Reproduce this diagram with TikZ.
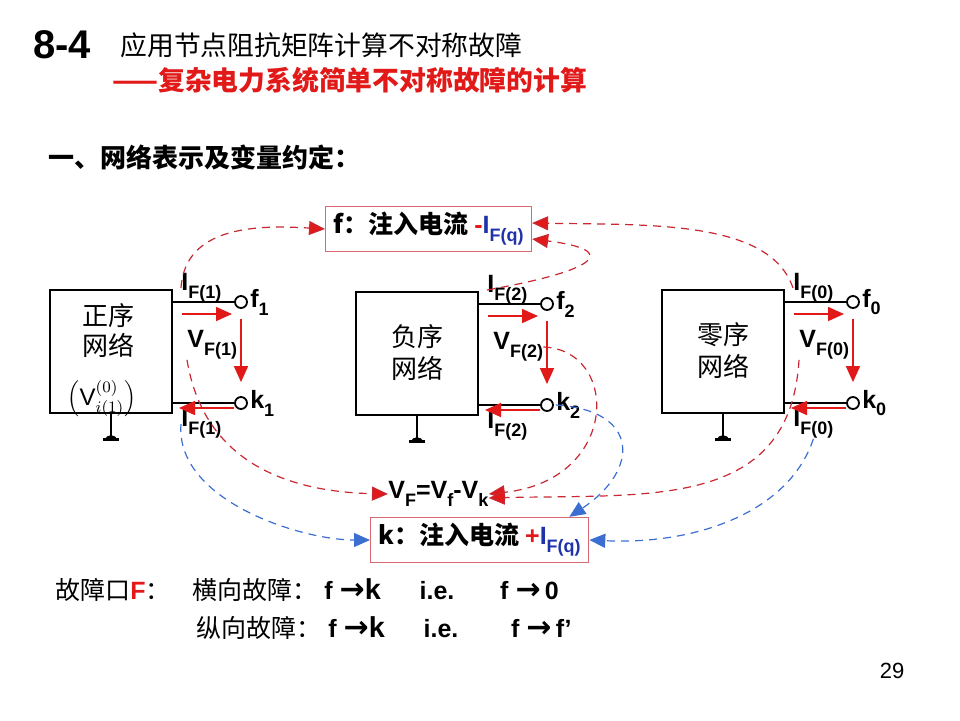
\documentclass[tikz,border=0pt]{standalone}
\usepackage{fontspec}
\setmainfont{Liberation Sans}
\newfontfamily\cjk{Noto Sans CJK SC}
\newfontfamily\sym{DejaVu Sans}
\usetikzlibrary{arrows.meta}
\definecolor{hired}{RGB}{225,25,25}
\definecolor{dred}{RGB}{200,40,50}
\definecolor{dblue}{RGB}{60,110,210}
\definecolor{lblue}{RGB}{30,50,170}
\newcommand{\subl}[2]{\textbf{#1}\raisebox{-0.6ex}{\fontsize{9}{9}\selectfont\textbf{#2}}}
\newcommand{\rarr}{{\sym\bfseries\fontsize{15}{15}\selectfont →}}

\begin{document}
\begin{tikzpicture}
        [x=0.5pt, y=-0.5pt,
        every node/.style={inner sep=0pt},
        net/.style={draw, line width=1pt, minimum width=61pt, minimum height=61.5pt,
            font=\cjk\fontsize{13}{16}\selectfont, align=center},
        term/.style={circle, draw, line width=0.9pt, minimum size=6pt, fill=white},
        lbl/.style={font=\fontsize{12.5}{13}\selectfont\bfseries, anchor=west},
        inj/.style={draw=dred!70, line width=0.6pt, inner xsep=4pt, inner ysep=3pt,
            font=\cjk\fontsize{12.5}{15}\selectfont},
        cur/.style={-{Triangle[length=8pt,width=7pt]}, hired, line width=0.8pt},
        rlink/.style={dashed, dash pattern=on 4pt off 3pt, dred, line width=0.6pt,
            -{Triangle[length=8pt,width=7pt,fill=hired]}},
        blink/.style={dashed, dash pattern=on 4pt off 3pt, dblue, line width=0.6pt,
            -{Triangle[length=8pt,width=7pt]}}]

        \useasboundingbox (0,0) rectangle (960,720);

        % heading
        \node[anchor=west, font=\fontsize{20}{22}\selectfont\bfseries] (num) at (33,45) {8-4};
        \node[anchor=west, font=\cjk\fontsize{13.4}{16}\selectfont] (title) at (120,45) {应用节点阻抗矩阵计算不对称故障};
        \node[anchor=west, font=\cjk\fontsize{13.4}{16}\selectfont\bfseries, text=hired] (subtitle) at (112,80) {——复杂电力系统简单不对称故障的计算};
        \node[anchor=west, font=\cjk\fontsize{13}{16}\selectfont\bfseries] (sect) at (48,157) {一、网络表示及变量约定：};

        % sequence networks
        \foreach \n/\x/\y/\txt/\s in {p/111/351/{}/1, n/417/353/{负序\\网络}/2, z/723/351/{零序\\网络}/0} {
            \node[net] (\n) at (\x,\y) {\txt};
            \node[term] (f\n) at (\x+130,\y-49) {};
            \node[term] (k\n) at (\x+130,\y+52) {};
            \draw[line width=1pt] (\n.east |- f\n) -- (f\n);
            \draw[line width=1pt] (\n.east |- k\n) -- (k\n);
            \draw[line width=1pt] (\n.south) -- ++(0,26) coordinate (g\n);
            \fill (g\n) ++(-6,0) arc (180:360:6 and 4) -- cycle;
            \draw[line width=1.2pt] (g\n) ++(-8,0) -- ++(16,0);
            \node[lbl] (fl\n) at ([xshift=1pt]f\n.east) {\subl{f}{\s}};
            \node[lbl] (kl\n) at ([xshift=1pt]k\n.east) {\subl{k}{\s}};
            \node[lbl] (it\n) at (\x+70,\y-63) {\subl{I}{F(\s)}};
            \node[lbl] (vv\n) at (\x+76,\y-6) {\subl{V}{F(\s)}};
            \node[lbl] (ib\n) at (\x+70,\y+73) {\subl{I}{F(\s)}};
            \draw[cur] (\x+71,\y-37) -- (\x+121,\y-37);
            \draw[cur] ([yshift=-5pt]f\n.south) -- ([yshift=7pt]k\n.north);
            \draw[cur] (\x+123,\y+57) -- (\x+68,\y+57);
        }
        \node[font=\cjk\fontsize{13}{15}\selectfont, align=center] (ptxt) at (109,331) {正序\\网络};
        \node[font=\fontsize{12}{13}\selectfont] (vi) at (102,399) {$\left(\mathrm{V}_{i(1)}^{(0)}\right)$};

        % injection boxes
        \node[inj, anchor=west] (fbox) at (325,229) {\bfseries f：注入电流 {\rmfamily\bfseries\textcolor{hired}{-}\textcolor{lblue}{\subl{I}{F(q)}}}};
        \node[inj, anchor=west] (kbox) at (370,540) {\bfseries k：注入电流 {\rmfamily\bfseries\textcolor{hired}{+}\textcolor{lblue}{\subl{I}{F(q)}}}};
        \node[font=\fontsize{12.5}{13}\selectfont\bfseries, anchor=west] (vf) at (388,494) {V\raisebox{-0.6ex}{\fontsize{9}{9}\selectfont F}=V\raisebox{-0.6ex}{\fontsize{9}{9}\selectfont f}-V\raisebox{-0.6ex}{\fontsize{9}{9}\selectfont k}};

        % current links
        \draw[rlink] (itp.west) .. controls (185,225) and (260,225) .. (fbox.west);
        \draw[rlink] (itn.west) .. controls (600,270) and (620,250) .. ([yshift=-5pt]fbox.east);
        \draw[rlink] (itz.west) .. controls (770,220) and (650,225) .. ([yshift=3pt]fbox.east);
        \draw[blink] (ibp.west) .. controls (175,500) and (300,540) .. (kbox.west);
        \draw[blink] (kln.west) .. controls (640,410) and (640,470) .. ([xshift=-10pt]kbox.north east);
        \draw[blink] (ibz.south) .. controls (790,510) and (700,545) .. (kbox.east);
        % voltage links
        \draw[rlink] (vvp.south west) .. controls (205,470) and (300,492) .. (vf.west);
        \draw[rlink] (vvn.east) .. controls (620,350) and (620,480) .. (vf.east);
        \draw[rlink] (vvz.south west) .. controls (790,510) and (650,494) .. ([yshift=-2pt]vf.east);

        % fault ports
        \node[anchor=west, font=\cjk\fontsize{12.5}{15}\selectfont] (port) at (55,590) {故障口{\rmfamily\bfseries\textcolor{hired}{F}}：};
        \node[anchor=west, font=\cjk\fontsize{12.5}{15}\selectfont] (shunt) at (192,590) {横向故障：{\rmfamily\bfseries\ f \rarr{\Large k}\quad\ \ i.e.\quad\ \ \ f \rarr\,0}};
        \node[anchor=west, font=\cjk\fontsize{12.5}{15}\selectfont] (series) at (196,628) {纵向故障：{\rmfamily\bfseries\ f \rarr{\Large k}\quad\ \ i.e.\quad\ \ \ \ f \rarr\,f’}};
        \node[font=\fontsize{11}{12}\selectfont] (page) at (892,671) {29};
    \end{tikzpicture}
\end{document}
